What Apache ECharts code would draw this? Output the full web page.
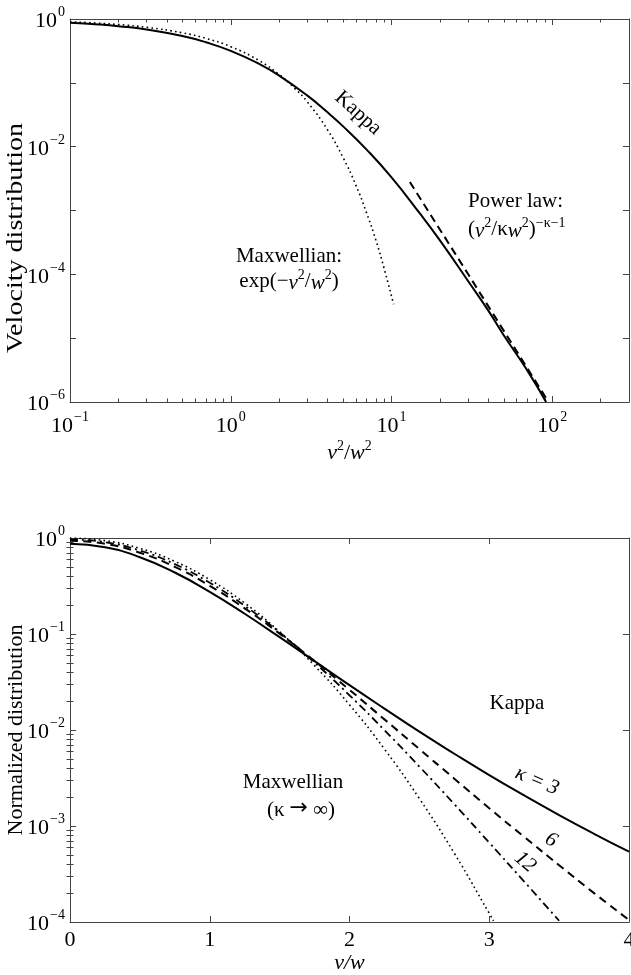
<!DOCTYPE html>
<html><head><meta charset="utf-8">
<script src="https://cdn.jsdelivr.net/npm/echarts@6/dist/echarts.min.js"></script>
<style>html,body{margin:0;padding:0;background:#fff}#c{width:631px;height:975px}</style>
</head><body><div id="c"></div>
<script>
// ---------- Top panel: velocity distribution vs v^2/w^2 (log-log) ----------
const topKappaX = [0.1, 0.15, 0.2, 0.3, 0.5, 0.7, 1, 1.5, 2, 3, 4, 5, 7, 10, 15, 20, 30, 40, 50, 70, 91.5];
const topKappaY = [0.877, 0.823, 0.772, 0.683, 0.540, 0.432, 0.316, 0.198, 0.130, 0.0630, 0.0345, 0.0208, 0.0090, 0.0033, 0.00090, 0.00034, 7.8e-5, 2.7e-5, 1.1e-5, 3.1e-6, 1.0e-6];
const topMaxwellX = [0.1, 0.15, 0.2, 0.3, 0.5, 0.7, 1, 1.5, 2, 2.5, 3, 4, 5, 6, 7, 8, 9, 10.3];
const topMaxwellY = [0.905, 0.861, 0.819, 0.741, 0.607, 0.497, 0.368, 0.223, 0.135, 0.082, 0.050, 0.0183, 0.0067, 0.0025, 0.00091, 0.00034, 0.000123, 3.4e-5];
const topPowerX = [13, 30, 93];
const topPowerY = [0.0028, 1.0e-4, 1.08e-6];
const topXTickLabels = [0.1, 1, 10, 100];
const topYTickLabels = [1e-6, 1e-4, 1e-2, 1];

// ---------- Bottom panel: normalized distribution vs v/w ----------
const botV = [0, 0.25, 0.5, 0.75, 1, 1.25, 1.5, 1.75, 2, 2.25, 2.5, 2.75, 3, 3.25, 3.5, 3.75, 4];
const botKappa3 = [0.869, 0.800, 0.631, 0.437, 0.275, 0.1625, 0.0927, 0.0521, 0.0293, 0.0167, 0.0096, 0.00566, 0.00339, 0.00208, 0.00130, 0.00083, 0.00054];
const botKappa6 = [0.936, 0.870, 0.703, 0.500, 0.318, 0.185, 0.1008, 0.0522, 0.0262, 0.0129, 0.00633, 0.00311, 0.00153, 0.00077, 0.00039, 0.00020, 0.000105];
const botKappa12V = [0, 0.25, 0.5, 0.75, 1, 1.25, 1.5, 1.75, 2, 2.25, 2.5, 2.75, 3, 3.25, 3.5];
const botKappa12 = [0.968, 0.905, 0.741, 0.534, 0.342, 0.197, 0.1037, 0.0504, 0.0230, 0.00997, 0.00416, 0.00169, 0.00067, 0.000264, 0.000103];
const botMaxwellV = [0, 0.25, 0.5, 0.75, 1, 1.25, 1.5, 1.75, 2, 2.25, 2.5, 2.75, 3, 3.03];
const botMaxwell = [1.0, 0.939, 0.779, 0.570, 0.368, 0.210, 0.1054, 0.0468, 0.0183, 0.00633, 0.00193, 0.00052, 0.000123, 0.000103];
const botXTickLabels = [0, 1, 2, 3, 4];
const botYTickLabels = [1e-4, 1e-3, 1e-2, 1e-1, 1];

// ---------- styling ----------
const FONT = 'Liberation Serif';
const AXC = '#444';
const zip = (xs, ys) => xs.map((x, i) => [x, ys[i]]);
const RICH = {
  b: { fontFamily: FONT, fontSize: 22, color: '#000', lineHeight: 27, verticalAlign: 'bottom' },
  s: { fontFamily: FONT, fontSize: 14, color: '#000', lineHeight: 14, verticalAlign: 'top', padding: [0, 0, 0, 1] }
};
const TRICH = {
  i: { fontFamily: FONT, fontSize: 21, fontStyle: 'italic', color: '#000', lineHeight: 25, verticalAlign: 'bottom' },
  s: { fontFamily: FONT, fontSize: 14, color: '#000', verticalAlign: 'top', lineHeight: 14 },
  n: { fontFamily: FONT, fontSize: 21, color: '#000', lineHeight: 25, verticalAlign: 'bottom' },
  a: { fontFamily: 'DejaVu Sans', fontSize: 22, color: '#000', lineHeight: 25, verticalAlign: 'middle', padding: [0, 5, 0, 5] }
};
function powLabel(v, list) {
  const l = Math.log10(v), e = Math.round(l);
  if (Math.abs(l - e) > 1e-6) return '';
  if (!list.some(t => Math.round(Math.log10(t)) === e)) return '';
  return '{b|10}{s|' + String(e).replace('-', '\u2212') + '}';
}
function minorLog(e0, e1, lo, hi) {
  const out = [];
  for (let e = e0; e < e1; e++) for (let k = 2; k <= 9; k++) {
    const v = e + Math.log10(k);
    if (v > lo && v < hi) out.push(v);
  }
  return out;
}
const topXMax = 300;
const topXMinor = minorLog(-1, 3, -1, Math.log10(topXMax));
const botYMinor = minorLog(-4, 0, -4, 0);

function frameAxis(o) {
  return Object.assign({
    axisLine: { show: true, onZero: false, lineStyle: { color: AXC, width: 1 } },
    axisTick: { show: true, inside: true, length: 6, lineStyle: { color: AXC, width: 1 } },
    axisLabel: { show: false },
    splitLine: { show: false },
    minorTick: { show: false },
    minorSplitLine: { show: false }
  }, o);
}
function minorAxis(o, vals) {
  return Object.assign({
    type: 'value',
    axisLine: { show: false },
    axisTick: { show: true, inside: true, length: 3.5, customValues: vals, lineStyle: { color: AXC, width: 1 } },
    axisLabel: { show: false },
    splitLine: { show: false }
  }, o);
}

const T = (txt, x, y, extra, style) => Object.assign({ type: 'text', x: x, y: y,
  style: Object.assign({ text: txt, font: '21px "Liberation Serif"', fill: '#000', align: 'center', verticalAlign: 'middle' }, style || {}) }, extra || {});

const option = {
  animation: false,
  backgroundColor: '#fff',
  textStyle: { fontFamily: FONT },
  grid: [
    { left: 70, top: 19, width: 559, height: 383, outerBoundsMode: 'none', containLabel: false },
    { left: 70, top: 538, width: 559, height: 384, outerBoundsMode: 'none', containLabel: false }
  ],
  xAxis: [
    frameAxis({ type: 'log', gridIndex: 0, min: 0.1, max: topXMax, position: 'bottom',
      axisLabel: { show: true, margin: 8, formatter: v => powLabel(v, topXTickLabels), rich: RICH },
      name: '{i|v}{s|2}{n|/}{i|w}{s|2}', nameLocation: 'middle', nameGap: 37,
      nameTextStyle: { rich: { i: Object.assign({}, TRICH.i, { fontSize: 22 }), s: TRICH.s, n: Object.assign({}, TRICH.n, { fontSize: 22 }) } } }),
    frameAxis({ type: 'log', gridIndex: 0, min: 0.1, max: topXMax, position: 'top' }),
    minorAxis({ gridIndex: 0, min: -1, max: Math.log10(topXMax), position: 'bottom' }, topXMinor),
    minorAxis({ gridIndex: 0, min: -1, max: Math.log10(topXMax), position: 'top' }, topXMinor),
    frameAxis({ type: 'value', gridIndex: 1, min: 0, max: 4, interval: 1, position: 'bottom',
      axisLabel: { show: true, margin: 7, color: '#000', fontFamily: FONT, fontSize: 22,
        customValues: botXTickLabels, formatter: v => String(v) },
      name: 'v/w', nameLocation: 'middle', nameGap: 29,
      nameTextStyle: { fontFamily: FONT, fontSize: 22, fontStyle: 'italic', color: '#000' } }),
    frameAxis({ type: 'value', gridIndex: 1, min: 0, max: 4, interval: 1, position: 'top' })
  ],
  yAxis: [
    frameAxis({ type: 'log', gridIndex: 0, min: 1e-6, max: 1, position: 'left',
      axisLabel: { show: true, margin: 5, formatter: v => powLabel(v, topYTickLabels), rich: RICH } }),
    frameAxis({ type: 'log', gridIndex: 0, min: 1e-6, max: 1, position: 'right' }),
    frameAxis({ type: 'log', gridIndex: 1, min: 1e-4, max: 1, position: 'left',
      axisLabel: { show: true, margin: 5, formatter: v => powLabel(v, botYTickLabels), rich: RICH } }),
    frameAxis({ type: 'log', gridIndex: 1, min: 1e-4, max: 1, position: 'right' }),
    minorAxis({ gridIndex: 1, min: -4, max: 0, position: 'left' }, botYMinor),
    minorAxis({ gridIndex: 1, min: -4, max: 0, position: 'right' }, botYMinor)
  ],
  series: [
    { name: 'Kappa', type: 'line', xAxisIndex: 0, yAxisIndex: 0, data: zip(topKappaX, topKappaY),
      showSymbol: false, smooth: true, lineStyle: { color: '#000', width: 2 } },
    { name: 'Maxwellian', type: 'line', xAxisIndex: 0, yAxisIndex: 0, data: zip(topMaxwellX, topMaxwellY),
      showSymbol: false, smooth: true, lineStyle: { color: '#000', width: 1.6, type: [1.6, 3.2] } },
    { name: 'Power law', type: 'line', xAxisIndex: 0, yAxisIndex: 0, data: zip(topPowerX, topPowerY),
      showSymbol: false, lineStyle: { color: '#000', width: 2, type: [8, 5] } },
    { name: 'kappa=3', type: 'line', xAxisIndex: 4, yAxisIndex: 2, data: zip(botV, botKappa3),
      showSymbol: false, smooth: true, lineStyle: { color: '#000', width: 2 } },
    { name: 'kappa=6', type: 'line', xAxisIndex: 4, yAxisIndex: 2, data: zip(botV, botKappa6),
      showSymbol: false, smooth: true, lineStyle: { color: '#000', width: 2, type: [8, 5.5] } },
    { name: 'kappa=12', type: 'line', xAxisIndex: 4, yAxisIndex: 2, data: zip(botKappa12V, botKappa12),
      showSymbol: false, smooth: true, lineStyle: { color: '#000', width: 1.8, type: [8, 4, 2, 4] } },
    { name: 'Maxwellian (kappa->inf)', type: 'line', xAxisIndex: 4, yAxisIndex: 2, data: zip(botMaxwellV, botMaxwell),
      showSymbol: false, smooth: true, lineStyle: { color: '#000', width: 1.6, type: [1.6, 3.2] } }
  ],
  graphic: [
    T('Velocity distribution', 16, 238, { rotation: Math.PI / 2, scaleX: 1.17 }, { font: '24px "Liberation Serif"' }),
    T('Normalized distribution', 16, 730, { rotation: Math.PI / 2 }, { font: '22px "Liberation Serif"' }),
    T('Kappa', 358, 113, { rotation: -42 * Math.PI / 180 }),
    T('Power law:', 468, 201, null, { align: 'left' }),
    T('({i|v}{s|2}/\u03ba{i|w}{s|2}){s|\u2212\u03ba\u22121}', 468, 229, null, { align: 'left', rich: TRICH }),
    T('Maxwellian:', 289, 256),
    T('exp(\u2212{i|v}{s|2}/{i|w}{s|2})', 289, 281, null, { rich: TRICH }),
    T('Kappa', 517, 703),
    T('\u03ba = 3', 537, 781, { rotation: -23 * Math.PI / 180 }, { font: 'italic 21px "Liberation Serif"' }),
    T('6', 551, 840, { rotation: -30 * Math.PI / 180 }, { font: 'italic 21px "Liberation Serif"' }),
    T('12', 525, 862, { rotation: -40 * Math.PI / 180 }, { font: 'italic 21px "Liberation Serif"' }),
    T('Maxwellian', 293, 782),
    T('{n|(\u03ba}{a|\u2192}{n|\u221e)}', 301, 808, null, { rich: TRICH })
  ]
};
echarts.init(document.getElementById('c'), null, { renderer: 'canvas' }).setOption(option);
</script></body></html>
